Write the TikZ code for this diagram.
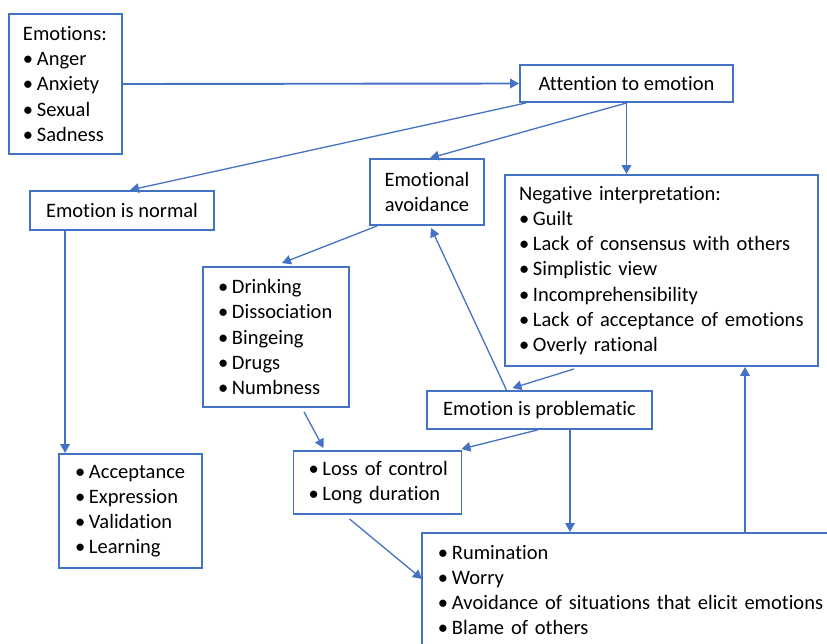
\documentclass[tikz,border=0pt]{standalone}
\usepackage{fontspec}
\setmainfont{Carlito}[Ligatures=NoCommon]
\usetikzlibrary{arrows.meta,calc}
\definecolor{bl}{HTML}{4472C4}
\newcommand{\bitem}[1]{\mbox{\makebox[14pt][l]{\textbullet}#1}}
\tikzset{
  bx/.style={draw=bl,line width=1.9pt,rectangle,inner ysep=0pt,align=left,
    font=\fontsize{20.5}{25.2}\selectfont},
  cbx/.style={draw=bl,line width=1.9pt,rectangle,inner sep=0pt,align=center,
    font=\fontsize{20.5}{25.2}\selectfont},
  arr/.style={draw=bl,line width=1.9pt,-{Triangle[length=9pt,width=9.5pt]}},
  thin arr/.style={draw=bl,line width=1.3pt,-{Triangle[length=9pt,width=9.5pt]}}
}
\begin{document}
\begin{tikzpicture}[x=1pt,y=-1pt]
\useasboundingbox (0,0) rectangle (827,643);
\clip (0,0) rectangle (827,643);
\node[bx,inner xsep=14pt,text width=85pt,minimum height=140pt] (emo) at (65.5,84)
 {\mbox{Emotions:}\\\bitem{Anger}\\\bitem{Anxiety}\\\bitem{Sexual}\\\bitem{Sadness}};
\node[cbx,minimum width=184pt,minimum height=39pt] (normal) at (122,210.5) {Emotion is normal};
\node[cbx,minimum width=213pt,minimum height=37pt] (att) at (626.5,83.5) {Attention to emotion};
\node[cbx,minimum width=114pt,minimum height=66pt] (avoid) at (427,192) {Emotional\\avoidance};
\node[bx,inner xsep=14pt,text width=285pt,minimum height=191pt] (neg) at (661.5,270.5)
 {\mbox{Negative interpretation:}\\\bitem{Guilt}\\\bitem{Lack of consensus with others}\\\bitem{Simplistic view}\\\bitem{Incomprehensibility}\\\bitem{Lack of acceptance of emotions}\\\bitem{Overly rational}};
\node[bx,inner xsep=15pt,text width=116pt,minimum height=140pt] (drink) at (276,337)
 {\bitem{Drinking}\\\bitem{Dissociation}\\\bitem{Bingeing}\\\bitem{Drugs}\\\bitem{Numbness}};
\node[cbx,minimum width=225pt,minimum height=38pt] (prob) at (539.5,410) {Emotion is problematic};
\node[bx,inner xsep=15pt,text width=138pt,minimum height=63pt] (loss) at (377.5,482.5)
 {\bitem{Loss of control}\\\bitem{Long duration}};
\node[bx,inner xsep=16pt,text width=111pt,minimum height=114pt] (acc) at (130.5,511)
 {\bitem{Acceptance}\\\bitem{Expression}\\\bitem{Validation}\\\bitem{Learning}};
\node[bx,inner xsep=16pt,text width=378pt,minimum height=114pt,anchor=north west] (rum) at (421,532)
 {\bitem{Rumination}\\\bitem{Worry}\\\bitem{Avoidance of situations that elicit emotions}\\\bitem{Blame of others}};
% helper points
\coordinate (p1) at ($(normal.south west)+(36,0)$);
\coordinate (p2) at ($(prob.south)+(30.5,0)$);
\coordinate (p3) at ($(rum.north west)+(324,0)$);
% connectors
\draw[arr] (emo.east) -- (att.west);
\draw[thin arr] ($(att.south west)+(7,0)$) -- ($(normal.north)+(8,0)$);
\draw[thin arr] (att.south) -- ($(avoid.north)+(3,0)$);
\draw[arr] (att.south) -- (att.south |- neg.north);
\draw[arr] (p1) -- (p1 |- acc.north);
\draw[thin arr] ($(avoid.south west)+(8,0)$) -- ($(drink.north)+(6,-3)$);
\draw[thin arr] ($(drink.south)+(28,4)$) -- ($(loss.north)+(-54,-2)$);
\draw[thin arr] ($(prob.north)+(-33,0)$) -- ($(avoid.south)+(4,2)$);
\draw[thin arr] ($(neg.south west)+(70,2)$) -- ($(prob.north)+(-27,-2)$);
\draw[thin arr] ($(prob.south)+(-2,0)$) -- ($(loss.north east)+(-1,-1)$);
\draw[arr] (p2) -- (p2 |- rum.north);
\draw[thin arr] ($(loss.south)+(-28,4)$) -- ($(rum.north west)+(1,47)$);
\draw[arr] (p3) -- (p3 |- neg.south);
\end{tikzpicture}
\end{document}
